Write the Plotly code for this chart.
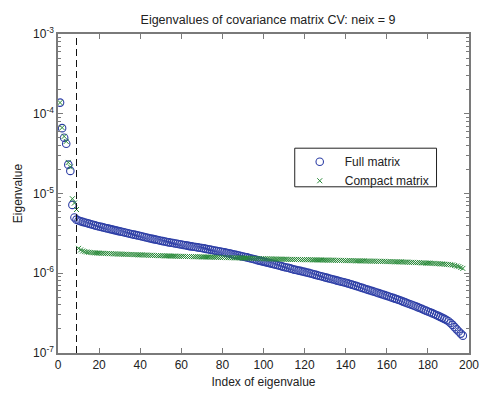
import plotly.graph_objects as go

# ---- data (eigenvalues in units of 1e-6) ----
neix = 9
full_matrix_e6 = [
    138, 66, 50, 42, 23, 19.2, 7.2, 5.0,
    4.70, 4.58, 4.49, 4.41, 4.33, 4.26, 4.19, 4.12, 4.05, 3.98, 3.92, 3.86,
    3.81, 3.76, 3.70, 3.65, 3.60, 3.55, 3.50, 3.45, 3.40, 3.35,
    3.31, 3.26, 3.22, 3.17, 3.13, 3.09, 3.05, 3.01, 2.97, 2.93,
    2.89, 2.85, 2.81, 2.77, 2.73, 2.70, 2.66, 2.63, 2.59, 2.56,
    2.53, 2.50, 2.47, 2.44, 2.41, 2.39, 2.36, 2.34, 2.31, 2.29,
    2.26, 2.24, 2.22, 2.19, 2.17, 2.15, 2.13, 2.11, 2.09, 2.07,
    2.05, 2.02, 2.00, 1.98, 1.96, 1.93, 1.91, 1.89, 1.87, 1.85,
    1.83, 1.80, 1.78, 1.76, 1.73, 1.71, 1.69, 1.67, 1.64, 1.62,
    1.60, 1.58, 1.55, 1.53, 1.51, 1.49, 1.46, 1.44, 1.42, 1.40,
    1.38, 1.36, 1.34, 1.32, 1.30, 1.28, 1.26, 1.24, 1.22, 1.20,
    1.18, 1.17, 1.15, 1.13, 1.11, 1.10, 1.08, 1.07, 1.05, 1.04,
    1.02, 1.01, 0.993, 0.977, 0.961, 0.946, 0.931, 0.916, 0.902, 0.888,
    0.874, 0.860, 0.847, 0.834, 0.821, 0.808, 0.795, 0.783, 0.771, 0.759,
    0.746, 0.733, 0.720, 0.707, 0.694, 0.681, 0.668, 0.655, 0.643, 0.631,
    0.619, 0.607, 0.596, 0.585, 0.574, 0.563, 0.552, 0.541, 0.531, 0.521,
    0.511, 0.501, 0.491, 0.481, 0.471, 0.461, 0.451, 0.441, 0.431, 0.421,
    0.412, 0.403, 0.394, 0.385, 0.376, 0.367, 0.358, 0.349, 0.340, 0.332,
    0.324, 0.316, 0.308, 0.300, 0.292, 0.284, 0.276, 0.268, 0.259, 0.250,
    0.238, 0.225, 0.211, 0.198, 0.186, 0.175, 0.165,
]
compact_matrix_e6 = [
    138, 67, 52, 45, 24.5, 21.5, 8.6, 7.6, 6.3,
    2.05, 1.96, 1.90, 1.87, 1.85, 1.83, 1.82, 1.81, 1.80, 1.79, 1.79,
    1.78, 1.78, 1.77, 1.77, 1.76, 1.76, 1.75, 1.75, 1.74, 1.74,
    1.74, 1.73, 1.73, 1.72, 1.72, 1.72, 1.71, 1.71, 1.70, 1.70,
    1.70, 1.69, 1.69, 1.68, 1.68, 1.68, 1.67, 1.67, 1.66, 1.66,
    1.66, 1.65, 1.65, 1.65, 1.64, 1.64, 1.64, 1.63, 1.63, 1.63,
    1.63, 1.62, 1.62, 1.62, 1.62, 1.61, 1.61, 1.61, 1.61, 1.60,
    1.60, 1.60, 1.60, 1.59, 1.59, 1.59, 1.59, 1.58, 1.58, 1.58,
    1.58, 1.57, 1.57, 1.57, 1.57, 1.56, 1.56, 1.56, 1.56, 1.55,
    1.55, 1.55, 1.54, 1.54, 1.54, 1.53, 1.53, 1.53, 1.52, 1.52,
    1.52, 1.52, 1.51, 1.51, 1.51, 1.51, 1.50, 1.50, 1.50, 1.50,
    1.50, 1.49, 1.49, 1.49, 1.49, 1.49, 1.49, 1.48, 1.48, 1.48,
    1.48, 1.48, 1.48, 1.47, 1.47, 1.47, 1.47, 1.47, 1.46, 1.46,
    1.46, 1.46, 1.46, 1.46, 1.45, 1.45, 1.45, 1.45, 1.45, 1.44,
    1.44, 1.44, 1.44, 1.44, 1.43, 1.43, 1.43, 1.43, 1.43, 1.42,
    1.42, 1.42, 1.42, 1.42, 1.41, 1.41, 1.41, 1.41, 1.41, 1.40,
    1.40, 1.40, 1.40, 1.39, 1.39, 1.39, 1.39, 1.38, 1.38, 1.38,
    1.37, 1.37, 1.37, 1.36, 1.36, 1.36, 1.35, 1.35, 1.34, 1.34,
    1.34, 1.33, 1.33, 1.32, 1.32, 1.31, 1.31, 1.30, 1.29, 1.29,
    1.28, 1.27, 1.25, 1.23, 1.21, 1.18, 1.15,
]
x_ticks = [0, 20, 40, 60, 80, 100, 120, 140, 160, 180, 200]
y_tick_exponents = [-7, -6, -5, -4, -3]

full_vals = [v * 1e-6 for v in full_matrix_e6]
compact_vals = [v * 1e-6 for v in compact_matrix_e6]
idx_full = list(range(1, len(full_vals) + 1))
idx_compact = list(range(1, len(compact_vals) + 1))
minor_vals = [m * 10.0 ** e for e in y_tick_exponents[:-1] for m in range(2, 10)]

FONT = "Liberation Sans, Arial, sans-serif"
TXT = "#222222"
AX = "#7a7a7a"

fig = go.Figure()
fig.add_trace(go.Scatter(
    x=idx_full, y=full_vals, mode="markers", name="Full matrix",
    marker=dict(symbol="circle-open", size=7.5, color="#2e3fa6",
                line=dict(width=1.1, color="#2e3fa6")),
))
fig.add_trace(go.Scatter(
    x=idx_compact, y=compact_vals, mode="markers", name="Compact matrix",
    marker=dict(symbol="x-thin-open", size=5, color="#2a8a3a",
                line=dict(width=1, color="#2a8a3a")),
))
fig.add_shape(type="line", xref="x", yref="paper", x0=neix, x1=neix, y0=0, y1=1,
              line=dict(color="#111111", width=1, dash="7px,4px"))
# legend frame
fig.add_shape(type="rect", xref="paper", yref="paper", x0=0.576, x1=0.921,
              y0=0.521, y1=0.642, line=dict(color="#222222", width=1),
              fillcolor="white", layer="below")

axis_common = dict(
    showline=True, linecolor=AX, linewidth=1.5, mirror="ticks",
    ticks="inside", ticklen=5, tickcolor=AX, tickwidth=1.2, showgrid=False,
    zeroline=False, tickfont=dict(family=FONT, size=12, color=TXT),
)
fig.update_xaxes(
    range=[0, 200], tickvals=x_ticks, ticktext=[str(t) for t in x_ticks],
    title=dict(text="Index of eigenvalue", font=dict(family=FONT, size=12, color=TXT), standoff=6),
    **axis_common,
)
fig.update_yaxes(
    type="log", range=[-7, -3],
    tickvals=[10.0 ** e for e in y_tick_exponents],
    ticktext=["10<sup>%d</sup>" % e for e in y_tick_exponents],
    minor=dict(tickmode="array", tickvals=minor_vals, ticks="inside",
               ticklen=3, tickcolor=AX, showgrid=False),
    title=dict(text="Eigenvalue", font=dict(family=FONT, size=12, color=TXT), standoff=8),
    **axis_common,
)
fig.update_layout(
    width=491, height=399, autosize=False,
    margin=dict(l=58, r=13, t=34, b=35),
    paper_bgcolor="white", plot_bgcolor="white",
    title=dict(text="Eigenvalues of covariance matrix CV: neix = 9",
               font=dict(family=FONT, size=12.5, color=TXT),
               x=0.5458, xanchor="center", y=0.95, yanchor="middle"),
    showlegend=True,
    legend=dict(x=0.576, y=0.645, xanchor="left", yanchor="top",
                bgcolor="rgba(0,0,0,0)", borderwidth=0,
                font=dict(family=FONT, size=12, color=TXT),
                itemwidth=40),
)
fig.write_html(
    "out.html",
    config={"responsive": False, "displayModeBar": False},
    default_width="491px", default_height="399px",
    post_script="document.body.style.margin='0';document.body.style.overflow='hidden';",
)
